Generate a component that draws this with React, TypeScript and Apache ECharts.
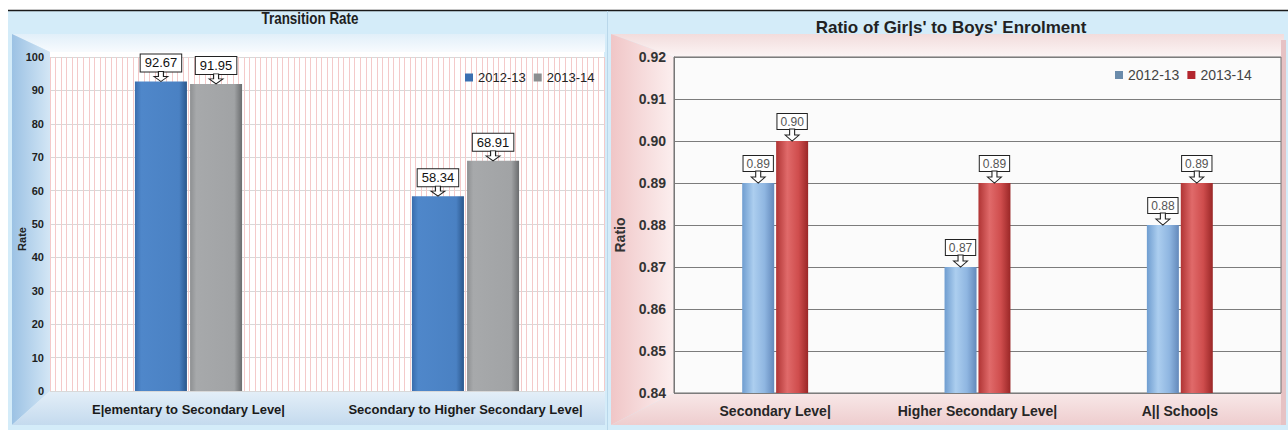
import React, { useEffect, useRef } from "react";
import * as echarts from "echarts";

const leftCategories = ["E|ementary to Secondary Leve|", "Secondary to Higher Secondary Leve|"];
const rate2012 = [92.67, 58.34];
const rate2013 = [91.95, 68.91];
const leftTitle = "Transition Rate";
const leftAxisName = "Rate";

const rightCategories = ["Secondary Leve|", "Higher Secondary Leve|", "A|| Schoo|s"];
const ratio2012 = [0.89, 0.87, 0.88];
const ratio2013 = [0.9, 0.89, 0.89];
const rightTitle = "Ratio of Gir|s' to Boys' Enrolment";
const rightAxisName = "Ratio";

const seriesNames = ["2012-13", "2013-14"];

const SANS = "'Liberation Sans', Arial, sans-serif";
const ARROW = "path://M4.5,0L9.5,0L9.5,5L14,5L7,10L0,5L4.5,5Z";

const lin = (x2: number, y2: number, stops: [number, string][]) =>
  new echarts.graphic.LinearGradient(0, 0, x2, y2, stops.map(([offset, color]) => ({ offset, color })));

function boxLabel(color: string, fontSize: number, distance: number, padding: number[]) {
  return {
    show: true,
    position: "top",
    distance,
    formatter: (p: any) => Number(p.value).toFixed(2),
    fontFamily: SANS,
    fontSize,
    color,
    backgroundColor: "#ffffff",
    borderColor: "#222",
    borderWidth: 1,
    padding,
  };
}

function arrows(values: number[], size: [number, number]) {
  return {
    symbol: ARROW,
    symbolSize: size,
    symbolOffset: [0, -size[1] / 2],
    silent: true,
    label: { show: false },
    itemStyle: { color: "#ffffff", borderColor: "#222", borderWidth: 1 },
    data: values.map((v, i) => ({ coord: [i, v] })),
  };
}

export default function App() {
  const ref = useRef<HTMLDivElement>(null);
  useEffect(() => {
    if (!ref.current) return;
    const chart = echarts.init(ref.current, null, { renderer: "svg" });
    const bg = (el: any) => ({ ...el, z: -10 });
    const option: any = {
      animation: false,
      textStyle: { fontFamily: SANS },
      graphic: [
        bg({ type: "rect", shape: { x: 8, y: 11, width: 599, height: 419 }, style: { fill: "#d4ecf9" } }),
        bg({ type: "polygon", shape: { points: [[12, 34], [605, 34], [605, 52], [50, 52]] }, style: { fill: lin(0, 1, [[0, "#e1eff9"], [1, "#f8fbfe"]]) } }),
        bg({ type: "polygon", shape: { points: [[12, 34], [50, 52], [50, 391], [12, 425]] }, style: { fill: lin(1, 0, [[0, "#9cc2e4"], [1, "#d3e6f5"]]) } }),
        bg({ type: "polygon", shape: { points: [[12, 425], [50, 391], [605, 391], [605, 425]] }, style: { fill: lin(0, 1, [[0, "#e4eff8"], [1, "#c4daee"]]) } }),
        bg({ type: "rect", shape: { x: 50, y: 52, width: 554, height: 339 }, style: { fill: "#ffffff" } }),
        bg({ type: "rect", shape: { x: 607, y: 11, width: 681, height: 419 }, style: { fill: "#d4ecf9" } }),
        bg({ type: "polygon", shape: { points: [[611, 34], [1284, 34], [1284, 57], [674, 57]] }, style: { fill: lin(0, 1, [[0, "#f2dcdc"], [1, "#fcf5f5"]]) } }),
        bg({ type: "polygon", shape: { points: [[611, 34], [674, 57], [674, 393], [611, 425]] }, style: { fill: lin(1, 0, [[0, "#f0c6c7"], [1, "#fcefef"]]) } }),
        bg({ type: "polygon", shape: { points: [[611, 425], [674, 393], [1284, 393], [1284, 425]] }, style: { fill: lin(0, 1, [[0, "#f8e8e8"], [1, "#eecdce"]]) } }),
        bg({ type: "rect", shape: { x: 1281, y: 40, width: 5, height: 385 }, style: { fill: "#e6c2c4" } }),
        bg({ type: "rect", shape: { x: 674, y: 57, width: 607, height: 336 }, style: { fill: "#fbfbfb", stroke: "#6e6e6e", lineWidth: 1 } }),
        { type: "line", z: 10, shape: { x1: 8, y1: 10.5, x2: 1288, y2: 10.5 }, style: { stroke: "#1a1a1a", lineWidth: 1.5 } },
        { type: "line", z: 10, shape: { x1: 607.5, y1: 11, x2: 607.5, y2: 430 }, style: { stroke: "#b9d7ea", lineWidth: 1 } },
        { type: "text", z: 10, x: 310, y: 19, scaleX: 0.84, style: { text: leftTitle, font: "bold 16px " + SANS, fill: "#1e1e1e", align: "center", verticalAlign: "middle" } },
        { type: "text", z: 10, x: 951, y: 27, style: { text: rightTitle, font: "bold 17px " + SANS, fill: "#222", align: "center", verticalAlign: "middle" } },
        { type: "text", z: 10, x: 22, y: 239, rotation: Math.PI / 2, style: { text: leftAxisName, font: "bold 11px " + SANS, fill: "#222", align: "center", verticalAlign: "middle" } },
        { type: "text", z: 10, x: 620, y: 235, rotation: Math.PI / 2, style: { text: rightAxisName, font: "bold 14px " + SANS, fill: "#333", align: "center", verticalAlign: "middle" } },
      ],
      legend: [
        {
          left: 460, top: 66, icon: "rect", itemWidth: 8, itemHeight: 8, itemGap: 8, selectedMode: false,
          textStyle: { fontFamily: SANS, fontSize: 13, color: "#222" },
          data: [
            { name: seriesNames[0], itemStyle: { color: "#3b70b1" } },
            { name: seriesNames[1], itemStyle: { color: "#8c8e90" } },
          ],
        },
        {
          left: 1110, top: 63, icon: "rect", itemWidth: 8, itemHeight: 8, itemGap: 8, selectedMode: false,
          textStyle: { fontFamily: SANS, fontSize: 14, color: "#444" },
          data: [
            { name: seriesNames[0], itemStyle: { color: "#6a8bab" } },
            { name: seriesNames[1], itemStyle: { color: "#b3262e" } },
          ],
        },
      ],
      grid: [
        { left: 50, top: 57, width: 554, height: 334 },
        { left: 674, top: 57, width: 607, height: 336 },
      ],
      xAxis: [
        {
          type: "category", gridIndex: 0, data: leftCategories,
          axisLine: { show: false }, axisTick: { show: false }, splitLine: { show: false },
          axisLabel: { interval: 0, fontFamily: SANS, fontWeight: "bold", fontSize: 13, color: "#1a1a1a", margin: 12 },
        },
        {
          type: "value", gridIndex: 0, min: 0, max: 100, interval: 1,
          axisLine: { show: false }, axisTick: { show: false }, axisLabel: { show: false },
          splitLine: { show: true, lineStyle: { color: "#f4caca", width: 1 } },
        },
        {
          type: "category", gridIndex: 1, data: rightCategories,
          axisLine: { show: false }, axisTick: { show: false }, splitLine: { show: false },
          axisLabel: { interval: 0, fontFamily: SANS, fontWeight: "bold", fontSize: 14, color: "#262626", margin: 11 },
        },
      ],
      yAxis: [
        {
          type: "value", gridIndex: 0, min: 0, max: 100, interval: 10,
          axisLine: { show: false }, axisTick: { show: false },
          axisLabel: { fontFamily: SANS, fontWeight: "bold", fontSize: 11, color: "#1e1e1e", margin: 6 },
          splitLine: { show: true, lineStyle: { color: "#d8d8d8", width: 1 } },
        },
        {
          type: "value", gridIndex: 1, min: 0.84, max: 0.92, interval: 0.01,
          axisLine: { show: true, lineStyle: { color: "#777", width: 1 } }, axisTick: { show: false },
          axisLabel: { fontFamily: SANS, fontWeight: "bold", fontSize: 14, color: "#333", margin: 8, formatter: (v: number) => v.toFixed(2) },
          splitLine: { show: true, lineStyle: { color: "#7c7c7c", width: 1 } },
        },
      ],
      series: [
        {
          name: seriesNames[0], type: "bar", xAxisIndex: 0, yAxisIndex: 0, data: rate2012,
          barWidth: 52, barGap: "6%",
          itemStyle: { color: lin(1, 0, [[0, "#3a6dad"], [0.12, "#4f87ca"], [0.85, "#4a81c3"], [1, "#2b578c"]]) },
          label: boxLabel("#111", 13, 10, [2, 4, 2, 4]),
          markPoint: arrows(rate2012, [14, 10]),
        },
        {
          name: seriesNames[1], type: "bar", xAxisIndex: 0, yAxisIndex: 0, data: rate2013,
          barWidth: 52, barGap: "6%",
          itemStyle: { color: lin(1, 0, [[0, "#8e9092"], [0.12, "#a7a9ab"], [0.85, "#a1a3a5"], [1, "#6a6c6e"]]) },
          label: boxLabel("#111", 13, 10, [2, 4, 2, 4]),
          markPoint: arrows(rate2013, [14, 10]),
        },
        {
          name: seriesNames[0], type: "bar", xAxisIndex: 2, yAxisIndex: 1, data: ratio2012,
          barWidth: 32, barGap: "6%",
          itemStyle: { color: lin(1, 0, [[0, "#6f9dd0"], [0.35, "#acceef"], [0.7, "#8fb6e1"], [1, "#6389bb"]]) },
          label: boxLabel("#555", 12, 12, [2, 3, 1, 3]),
          markPoint: arrows(ratio2012, [14, 12]),
        },
        {
          name: seriesNames[1], type: "bar", xAxisIndex: 2, yAxisIndex: 1, data: ratio2013,
          barWidth: 32, barGap: "6%",
          itemStyle: { color: lin(1, 0, [[0, "#b03434"], [0.35, "#e06a6a"], [0.7, "#cf4d4d"], [1, "#9a2727"]]) },
          label: boxLabel("#555", 12, 12, [2, 3, 1, 3]),
          markPoint: arrows(ratio2013, [14, 12]),
        },
      ],
    };
    chart.setOption(option);
    return () => chart.dispose();
  }, []);
  return <div ref={ref} style={{ position: "absolute", left: 0, top: 0, width: 1288, height: 430 }} />;
}
